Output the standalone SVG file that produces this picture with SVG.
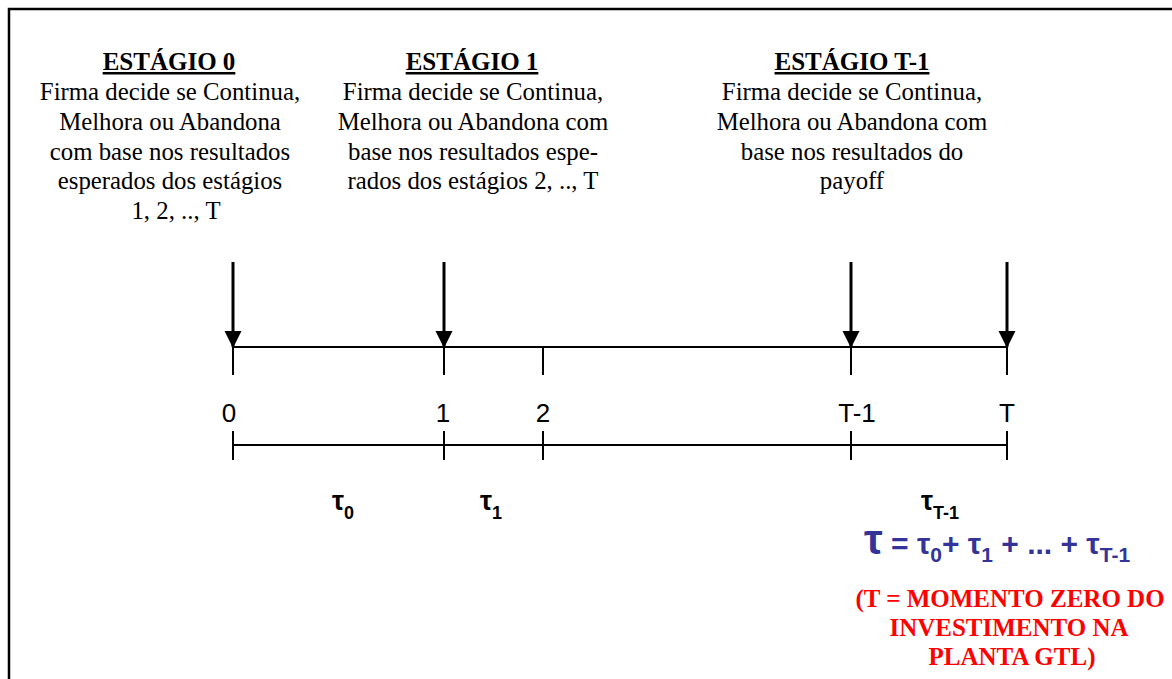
<svg xmlns="http://www.w3.org/2000/svg" width="1172" height="679" viewBox="0 0 1172 679">
<style>
.h{font-family:"Liberation Serif",serif;font-size:25px;font-weight:bold;text-decoration:underline;text-anchor:middle;fill:#000}
.b{font-family:"Liberation Serif",serif;font-size:24.8px;text-anchor:middle;fill:#000}
.n{font-family:"Liberation Sans",sans-serif;font-size:26px;text-anchor:middle;fill:#000}
.t{font-family:"Liberation Sans",sans-serif;font-size:27px;font-weight:bold;fill:#000}
.f{font-family:"Liberation Sans",sans-serif;font-size:30px;font-weight:bold;fill:#333399}
.r{font-family:"Liberation Serif",serif;font-size:25px;font-weight:bold;text-anchor:middle;fill:#ff0000}
.ln{stroke:#000;stroke-width:2;fill:none}
.ar{stroke:#000;stroke-width:3;fill:none;marker-end:url(#ah)}
</style>
<defs>
<marker id="ah" markerUnits="userSpaceOnUse" markerWidth="17" markerHeight="17" refX="16" refY="8.5" orient="auto" viewBox="0 0 17 17" overflow="visible">
<path d="M0,0 L17,8.5 L0,17 Z" fill="#000"/>
</marker>
</defs>
<rect width="1172" height="679" fill="#fff"/>
<path d="M9,679 V9 H1172" stroke="#000" stroke-width="2.5" fill="none"/>
<g id="stage0">
<text class="h" x="169" y="70">ESTÁGIO 0</text>
<text class="b" x="170" y="100">Firma decide se Continua,</text>
<text class="b" x="170" y="130">Melhora ou Abandona</text>
<text class="b" x="170" y="160">com base nos resultados</text>
<text class="b" x="170" y="189">esperados dos estágios</text>
<text class="b" x="176" y="219">1, 2, .., T</text>
</g>
<g id="stage1">
<text class="h" x="472" y="70">ESTÁGIO 1</text>
<text class="b" x="473" y="100">Firma decide se Continua,</text>
<text class="b" x="473" y="130">Melhora ou Abandona com</text>
<text class="b" x="473" y="160">base nos resultados espe-</text>
<text class="b" x="473" y="189">rados dos estágios 2, .., T</text>
</g>
<g id="stageT1">
<text class="h" x="852" y="70">ESTÁGIO T-1</text>
<text class="b" x="852" y="100">Firma decide se Continua,</text>
<text class="b" x="852" y="130">Melhora ou Abandona com</text>
<text class="b" x="852" y="160">base nos resultados do</text>
<text class="b" x="852" y="189">payoff</text>
</g>
<g id="connectors">
<line class="ar" x1="233" y1="262" x2="233" y2="347"/>
<line class="ar" x1="444" y1="262" x2="444" y2="347"/>
<line class="ar" x1="851" y1="262" x2="851" y2="347"/>
<line class="ar" x1="1007" y1="262" x2="1007" y2="347"/>
</g>
<g id="timeline-top">
<line class="ln" x1="233" y1="347" x2="1007" y2="347"/>
<line class="ln" x1="233" y1="347" x2="233" y2="375"/>
<line class="ln" x1="444" y1="347" x2="444" y2="375"/>
<line class="ln" x1="543" y1="347" x2="543" y2="375"/>
<line class="ln" x1="851" y1="347" x2="851" y2="375"/>
<line class="ln" x1="1007" y1="347" x2="1007" y2="375"/>
</g>
<g id="labels">
<text class="n" x="229" y="422">0</text>
<text class="n" x="443" y="422">1</text>
<text class="n" x="543" y="422">2</text>
<text class="n" x="857" y="422">T-1</text>
<text class="n" x="1007" y="422">T</text>
</g>
<g id="timeline-bottom">
<line class="ln" x1="233" y1="445" x2="1007" y2="445"/>
<line class="ln" x1="233" y1="431" x2="233" y2="460"/>
<line class="ln" x1="444" y1="431" x2="444" y2="460"/>
<line class="ln" x1="543" y1="431" x2="543" y2="460"/>
<line class="ln" x1="851" y1="431" x2="851" y2="460"/>
<line class="ln" x1="1007" y1="431" x2="1007" y2="460"/>
</g>
<g id="taus">
<text class="t" x="332" y="510">τ<tspan font-size="18" dy="9">0</tspan></text>
<text class="t" x="480" y="510">τ<tspan font-size="18" dy="9">1</tspan></text>
<text class="t" x="921" y="510">τ<tspan font-size="18" dy="9">T-1</tspan></text>
</g>
<g id="formula">
<text class="f" x="864" y="554"><tspan font-size="42">τ</tspan> = τ<tspan font-size="21" dy="8">0</tspan><tspan dy="-8">+ τ</tspan><tspan font-size="21" dy="8">1</tspan><tspan dy="-8"> + ... + τ</tspan><tspan font-size="21" dy="8">T-1</tspan></text>
</g>
<g id="note">
<text class="r" x="1010" y="607">(T = MOMENTO ZERO DO</text>
<text class="r" x="1009" y="636">INVESTIMENTO NA</text>
<text class="r" x="1012" y="665">PLANTA GTL)</text>
</g>
</svg>
